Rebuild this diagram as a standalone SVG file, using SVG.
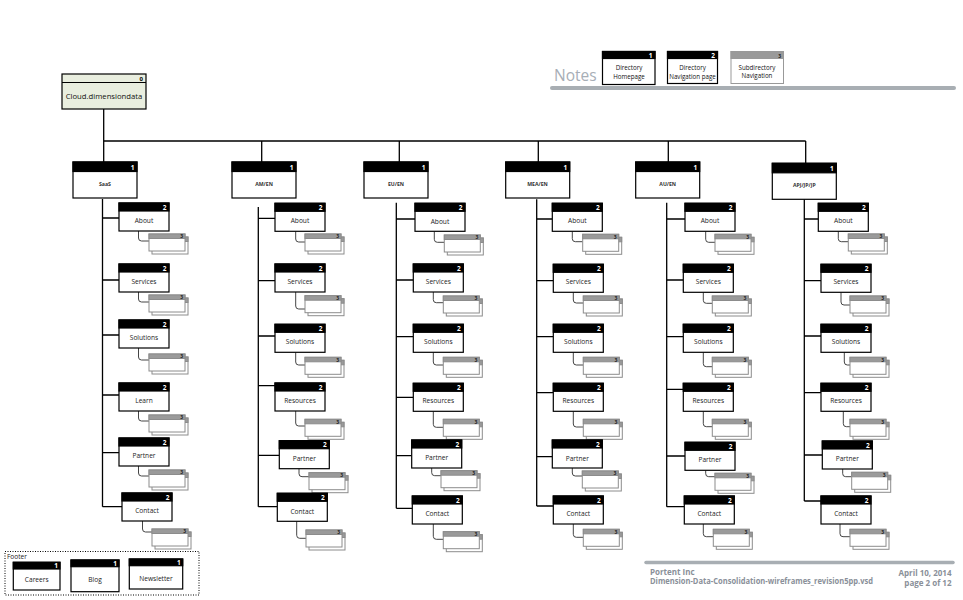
<svg xmlns="http://www.w3.org/2000/svg" xmlns:xlink="http://www.w3.org/1999/xlink" width="963" height="600" viewBox="0 0 963 600">
<style>
.box{fill:#fff;stroke:#000;stroke-width:1.2}
.hdr{fill:#000;stroke:#000;stroke-width:1.2}
.num{font-family:"Open Sans","Liberation Sans",sans-serif;font-size:6.5px;font-weight:bold;fill:#fff;text-anchor:end}
.lbl{font-family:"Open Sans","Liberation Sans",sans-serif;font-size:6.6px;fill:#222;text-anchor:middle}
.l1{font-family:"Open Sans","Liberation Sans",sans-serif;font-size:5.2px;font-weight:bold;fill:#333;text-anchor:middle}
.sb{fill:#fff;stroke:#8c8c8c;stroke-width:1}
.sh{fill:#9a9a9a;stroke:#8c8c8c;stroke-width:1}
.n3{font-family:"Open Sans","Liberation Sans",sans-serif;font-size:5px;font-weight:bold;fill:#222;text-anchor:end}
.ln{fill:none;stroke:#000;stroke-width:1.3}
.sl{fill:none;stroke:#444;stroke-width:1}
.note{font-family:"Open Sans","Liberation Sans",sans-serif;font-size:6.2px;fill:#111;text-anchor:middle}
.foot{font-family:"Open Sans","Liberation Sans",sans-serif;font-size:8px;font-weight:bold;fill:#8a9099}
</style>
<defs>
<g id="b2"><rect class="box" width="50" height="28"/><rect class="hdr" width="50" height="8"/><text class="num" x="47.5" y="6.6">2</text></g>
<g id="b1"><rect class="box" width="64" height="36"/><rect class="hdr" width="64" height="9.5"/><text class="num" x="61.5" y="7.6">1</text></g>
<g id="stk"><rect class="sb" x="3" y="3" width="36" height="17"/><rect class="sh" x="3" y="3" width="36" height="4.5"/><rect class="sb" width="36" height="17"/><rect class="sh" width="36" height="4.5"/><text class="n3" x="34" y="4.3">3</text></g>
</defs>
<rect width="963" height="600" fill="#fff"/>

<g id="notes">
<text x="554" y="81" font-family="'Open Sans','Liberation Sans',sans-serif" font-size="15.5" fill="#a7aeb6">Notes</text>
<rect class="box" x="602.5" y="51.5" width="52.5" height="33"/><rect class="hdr" x="602.5" y="51.5" width="52.5" height="7"/><text class="num" x="652.5" y="57.5">1</text>
<text class="note" x="629" y="70">Directory</text><text class="note" x="629" y="79">Homepage</text>
<rect class="box" x="667.5" y="51.5" width="50" height="32"/><rect class="hdr" x="667.5" y="51.5" width="50" height="7"/><text class="num" x="715" y="57.5">2</text>
<text class="note" x="692.5" y="70">Directory</text><text class="note" x="692.5" y="79">Navigation page</text>
<rect x="731" y="51.5" width="52.5" height="32" fill="#fff" stroke="#999" stroke-width="1"/><rect x="731" y="51.5" width="52.5" height="7" fill="#9a9a9a" stroke="#999" stroke-width="1"/><text class="n3" x="781" y="57.5" font-size="6">3</text>
<text class="note" x="757" y="70">Subdirectory</text><text class="note" x="757" y="78">Navigation</text>
<line x1="552" y1="88" x2="954" y2="88" stroke="#a8aeb3" stroke-width="4" stroke-linecap="round"/>
</g>

<g id="root">
<rect x="62" y="74" width="84" height="35" fill="#e9eedf" stroke="#000" stroke-width="1.2"/>
<line x1="62" y1="82.5" x2="146" y2="82.5" stroke="#000" stroke-width="1"/>
<text x="143" y="80.8" font-family="'Open Sans','Liberation Sans',sans-serif" font-size="6" font-weight="bold" text-anchor="end">0</text>
<text x="104" y="99" font-family="'Open Sans','Liberation Sans',sans-serif" font-size="7.7" text-anchor="middle" fill="#111">Cloud.dimensiondata</text>
</g>

<g id="connectors">
<path class="ln" d="M103.7,109 V162 M103.7,141 H805.7 M261.7,141 V162 M399.3,141 V162 M538.3,141 V162 M668.3,141 V162 M805.7,141 V163"/>
<!-- col1 -->
<path class="ln" d="M102.5,199 V506.7 M102.5,218 H119 M102.5,280 H119 M102.5,335 H119 M102.5,395 H119 M102.5,452.7 H119 M102.5,506.7 H122"/>
<path class="sl" d="M138.5,231 V238 Q138.5,241 141.5,241 H149 M138.5,292 V299 Q138.5,302 141.5,302 H149 M138.5,348 V357 Q138.5,360 141.5,360 H149 M138.5,411 V418 Q138.5,421 141.5,421 H149 M138.5,466 V473 Q138.5,476 141.5,476 H149 M142.5,521 V529 Q142.5,532 145.5,532 H152"/>
<!-- col2 -->
<path class="ln" d="M258.3,207 V506.7 M258.3,218.3 H275 M258.3,280.7 H275 M258.3,336 H275 M258.3,385.7 H275 M258.3,455.3 H279.3 M258.3,506.7 H277.3"/>
<path class="sl" d="M295.7,231.3 V239 Q295.7,242 298.7,242 H305 M295.7,292 V306 Q295.7,309 298.7,309 H305 M295.7,352.3 V362 Q295.7,365 298.7,365 H305 M295.7,411 V423 Q295.7,426 298.7,426 H305 M299,468.7 V473.7 Q299,476.7 302,476.7 H309 M296.7,521.3 V535.3 Q296.7,538.3 299.7,538.3 H306"/>
<!-- col3 -->
<path class="ln" d="M396.3,202.7 V508.3 M396.3,219 H415 M396.3,280 H413.3 M396.3,336.7 H413.3 M396.3,397.3 H413.3 M396.3,455.7 H411.7 M396.3,508.3 H412.3"/>
<path class="sl" d="M434.3,231.3 V239.3 Q434.3,242.3 437.3,242.3 H444.3 M433.3,292 V299.7 Q433.3,302.7 436.3,302.7 H443.3 M433.3,352.3 V362 Q433.3,365 436.3,365 H443.3 M433.3,411.3 V424.3 Q433.3,427.3 436.3,427.3 H443.3 M431.7,468 V472.7 Q431.7,475.7 434.7,475.7 H441 M433.3,524 V536.3 Q433.3,539.3 436.3,539.3 H443.3"/>
<!-- col4 -->
<path class="ln" d="M536.7,199.3 V506 M536.7,219 H552.3 M536.7,280.7 H553.3 M536.7,336.7 H553.3 M536.7,392.7 H553.3 M536.7,456.7 H552.3 M536.7,506 H553.3"/>
<path class="sl" d="M572.3,231.3 V238.7 Q572.3,241.7 575.3,241.7 H582.7 M573.3,292.3 V300 Q573.3,303 576.3,303 H583.3 M573.3,352.3 V362 Q573.3,365 576.3,365 H583.3 M573.3,411.3 V424 Q573.3,427 576.3,427 H583.3 M572.3,468 V473 Q572.3,476 575.3,476 H582.3 M573.3,524 V534.3 Q573.3,537.3 576.3,537.3 H583.3"/>
<!-- col5 -->
<path class="ln" d="M666.7,202.7 V506.7 M666.7,219 H685 M666.7,280 H683.3 M666.7,336.7 H683.3 M666.7,389.3 H683.3 M666.7,456 H685 M666.7,506.7 H684.3"/>
<path class="sl" d="M705.7,231.3 V239.3 Q705.7,242.3 708.7,242.3 H715 M703.3,292.3 V300.3 Q703.3,303.3 706.3,303.3 H712.3 M703.3,352.3 V363.7 Q703.3,366.7 706.3,366.7 H712.3 M703.3,411.3 V423.7 Q703.3,426.7 706.3,426.7 H712.3 M705.7,470.3 V473.7 Q705.7,476.7 708.7,476.7 H715 M703.3,524 V533.7 Q703.3,536.7 706.3,536.7 H713.3"/>
<!-- col6 -->
<path class="ln" d="M804.3,199.3 V501 M804.3,219 H818.3 M804.3,280.7 H821 M804.3,336 H821 M804.3,392.7 H821 M804.3,455 H822.3 M804.3,501 H821"/>
<path class="sl" d="M838.3,231.3 V238.7 Q838.3,241.7 841.3,241.7 H848.3 M841,292.3 V302 Q841,305 844,305 H850 M844.3,352.3 V362 Q844.3,365 847.3,365 H850 M843.3,411.3 V423.7 Q843.3,426.7 846.3,426.7 H850 M842.7,469 V473.7 Q842.7,476.7 845.7,476.7 H851.7 M840,524 V533.7 Q840,536.7 843,536.7 H850"/>
</g>

<!-- level 1 -->
<g id="saas"><use xlink:href="#b1" x="73" y="162"/><text class="l1" x="105" y="186">SaaS</text></g>
<g id="amen"><use xlink:href="#b1" x="232" y="162"/><text class="l1" x="264" y="186">AM/EN</text></g>
<g id="euen"><use xlink:href="#b1" x="364" y="162"/><text class="l1" x="396" y="186">EU/EN</text></g>
<g id="meaen"><use xlink:href="#b1" x="505.7" y="162"/><text class="l1" x="537.5" y="186">MEA/EN</text></g>
<g id="auen"><use xlink:href="#b1" x="635.7" y="162"/><text class="l1" x="667.7" y="186">AU/EN</text></g>
<g id="apj"><use xlink:href="#b1" x="772.3" y="163.3"/><text class="l1" x="804.3" y="187">APJ/JP/JP</text></g>

<!-- column 1 -->
<g id="c1-about"><use xlink:href="#b2" x="119" y="203"/><text class="lbl" x="144" y="223">About</text><use xlink:href="#stk" x="149" y="234"/></g>
<g id="c1-services"><use xlink:href="#b2" x="119" y="264"/><text class="lbl" x="144" y="284">Services</text><use xlink:href="#stk" x="149" y="295"/></g>
<g id="c1-solutions"><use xlink:href="#b2" x="119" y="320"/><text class="lbl" x="144" y="340">Solutions</text><use xlink:href="#stk" x="149" y="354"/></g>
<g id="c1-learn"><use xlink:href="#b2" x="119" y="383"/><text class="lbl" x="144" y="403">Learn</text><use xlink:href="#stk" x="149" y="415"/></g>
<g id="c1-partner"><use xlink:href="#b2" x="119" y="438"/><text class="lbl" x="144" y="458">Partner</text><use xlink:href="#stk" x="149" y="470"/></g>
<g id="c1-contact"><use xlink:href="#b2" x="122" y="493"/><text class="lbl" x="147" y="513">Contact</text><use xlink:href="#stk" x="152" y="529"/></g>

<!-- column 2 -->
<g id="c2-about"><use xlink:href="#b2" x="275" y="203.3"/><text class="lbl" x="300" y="223">About</text><use xlink:href="#stk" x="305" y="234"/></g>
<g id="c2-services"><use xlink:href="#b2" x="275" y="264"/><text class="lbl" x="300" y="284">Services</text><use xlink:href="#stk" x="305" y="295.7"/></g>
<g id="c2-solutions"><use xlink:href="#b2" x="275" y="324.3"/><text class="lbl" x="300" y="344">Solutions</text><use xlink:href="#stk" x="305" y="357.3"/></g>
<g id="c2-resources"><use xlink:href="#b2" x="275" y="383"/><text class="lbl" x="300" y="403">Resources</text><use xlink:href="#stk" x="305" y="419.3"/></g>
<g id="c2-partner"><use xlink:href="#b2" x="279.3" y="440.7"/><text class="lbl" x="304.3" y="460.5">Partner</text><use xlink:href="#stk" x="309" y="472.7"/></g>
<g id="c2-contact"><use xlink:href="#b2" x="277.3" y="493.3"/><text class="lbl" x="302.3" y="513.5">Contact</text><use xlink:href="#stk" x="306" y="530"/></g>

<!-- column 3 -->
<g id="c3-about"><use xlink:href="#b2" x="415" y="203.3"/><text class="lbl" x="440" y="223.5">About</text><use xlink:href="#stk" x="444.3" y="235"/></g>
<g id="c3-services"><use xlink:href="#b2" x="413.3" y="264"/><text class="lbl" x="438.3" y="284">Services</text><use xlink:href="#stk" x="443.3" y="296"/></g>
<g id="c3-solutions"><use xlink:href="#b2" x="413.3" y="324.3"/><text class="lbl" x="438.3" y="344">Solutions</text><use xlink:href="#stk" x="443.3" y="357.3"/></g>
<g id="c3-resources"><use xlink:href="#b2" x="413.3" y="383.3"/><text class="lbl" x="438.3" y="403">Resources</text><use xlink:href="#stk" x="443.3" y="419.3"/></g>
<g id="c3-partner"><use xlink:href="#b2" x="411.7" y="440"/><text class="lbl" x="436.7" y="459.5">Partner</text><use xlink:href="#stk" x="441" y="470.7"/></g>
<g id="c3-contact"><use xlink:href="#b2" x="412.3" y="496"/><text class="lbl" x="437.3" y="515.5">Contact</text><use xlink:href="#stk" x="443.3" y="531.7"/></g>

<!-- column 4 -->
<g id="c4-about"><use xlink:href="#b2" x="552.3" y="203.3"/><text class="lbl" x="577.3" y="223">About</text><use xlink:href="#stk" x="582.7" y="234.3"/></g>
<g id="c4-services"><use xlink:href="#b2" x="553.3" y="264.3"/><text class="lbl" x="578.3" y="284">Services</text><use xlink:href="#stk" x="583.3" y="296"/></g>
<g id="c4-solutions"><use xlink:href="#b2" x="553.3" y="324.3"/><text class="lbl" x="578.3" y="344">Solutions</text><use xlink:href="#stk" x="583.3" y="357.3"/></g>
<g id="c4-resources"><use xlink:href="#b2" x="553.3" y="383.3"/><text class="lbl" x="578.3" y="403">Resources</text><use xlink:href="#stk" x="583.3" y="419.3"/></g>
<g id="c4-partner"><use xlink:href="#b2" x="552.3" y="440"/><text class="lbl" x="577.3" y="460.5">Partner</text><use xlink:href="#stk" x="582.3" y="471"/></g>
<g id="c4-contact"><use xlink:href="#b2" x="553.3" y="496"/><text class="lbl" x="578.3" y="515.5">Contact</text><use xlink:href="#stk" x="583.3" y="529.3"/></g>

<!-- column 5 -->
<g id="c5-about"><use xlink:href="#b2" x="685" y="203.3"/><text class="lbl" x="710" y="223">About</text><use xlink:href="#stk" x="715" y="234.3"/></g>
<g id="c5-services"><use xlink:href="#b2" x="683.3" y="264.3"/><text class="lbl" x="708.3" y="284">Services</text><use xlink:href="#stk" x="712.3" y="296"/></g>
<g id="c5-solutions"><use xlink:href="#b2" x="683.3" y="324.3"/><text class="lbl" x="708.3" y="344">Solutions</text><use xlink:href="#stk" x="712.3" y="357.3"/></g>
<g id="c5-resources"><use xlink:href="#b2" x="683.3" y="383.3"/><text class="lbl" x="708.3" y="403">Resources</text><use xlink:href="#stk" x="712.3" y="419.3"/></g>
<g id="c5-partner"><use xlink:href="#b2" x="685" y="442.3"/><text class="lbl" x="710" y="461.5">Partner</text><use xlink:href="#stk" x="715" y="473.3"/></g>
<g id="c5-contact"><use xlink:href="#b2" x="684.3" y="496"/><text class="lbl" x="709.3" y="515.5">Contact</text><use xlink:href="#stk" x="713.3" y="529.3"/></g>

<!-- column 6 -->
<g id="c6-about"><use xlink:href="#b2" x="818.3" y="203.3"/><text class="lbl" x="843.3" y="223">About</text><use xlink:href="#stk" x="848.3" y="234"/></g>
<g id="c6-services"><use xlink:href="#b2" x="821" y="264.3"/><text class="lbl" x="846" y="284">Services</text><use xlink:href="#stk" x="850" y="296"/></g>
<g id="c6-solutions"><use xlink:href="#b2" x="821" y="324.3"/><text class="lbl" x="846" y="344">Solutions</text><use xlink:href="#stk" x="850" y="357.3"/></g>
<g id="c6-resources"><use xlink:href="#b2" x="821" y="383.3"/><text class="lbl" x="846" y="403">Resources</text><use xlink:href="#stk" x="850" y="419.3"/></g>
<g id="c6-partner"><use xlink:href="#b2" x="822.3" y="441"/><text class="lbl" x="847.3" y="460.5">Partner</text><use xlink:href="#stk" x="851.7" y="472.3"/></g>
<g id="c6-contact"><use xlink:href="#b2" x="821" y="496"/><text class="lbl" x="846" y="515.5">Contact</text><use xlink:href="#stk" x="850" y="529.3"/></g>

<g id="footer">
<rect x="5" y="551.5" width="194" height="43.5" fill="none" stroke="#000" stroke-width="1" stroke-dasharray="1,1.5"/>
<text x="7" y="558.5" font-family="'Open Sans','Liberation Sans',sans-serif" font-size="6.5" fill="#222">Footer</text>
<g id="careers"><rect class="box" x="13.3" y="562.3" width="46.7" height="27.7"/><rect class="hdr" x="13.3" y="562.3" width="46.7" height="6.7"/><text class="num" x="58" y="568.3">1</text><text class="lbl" x="36.7" y="582">Careers</text></g>
<g id="blog"><rect class="box" x="71" y="560" width="48" height="31.7"/><rect class="hdr" x="71" y="560" width="48" height="6.7"/><text class="num" x="117" y="566">1</text><text class="lbl" x="95" y="582">Blog</text></g>
<g id="newsletter"><rect class="box" x="129.3" y="559" width="53.4" height="30"/><rect class="hdr" x="129.3" y="559" width="53.4" height="6.7"/><text class="num" x="180.7" y="565">1</text><text class="lbl" x="156" y="581">Newsletter</text></g>
</g>

<g id="titleblock">
<line x1="646" y1="562.5" x2="953" y2="562.5" stroke="#a8aeb3" stroke-width="3.5" stroke-linecap="round"/>
<text class="foot" x="650" y="574.5">Portent Inc</text>
<text class="foot" x="650" y="584" textLength="223" lengthAdjust="spacingAndGlyphs">Dimension-Data-Consolidation-wireframes_revision5pp.vsd</text>
<text class="foot" x="951.5" y="576" text-anchor="end" font-size="8.5">April 10, 2014</text>
<text class="foot" x="951.5" y="586" text-anchor="end" font-size="8.5">page 2 of 12</text>
</g>
</svg>
